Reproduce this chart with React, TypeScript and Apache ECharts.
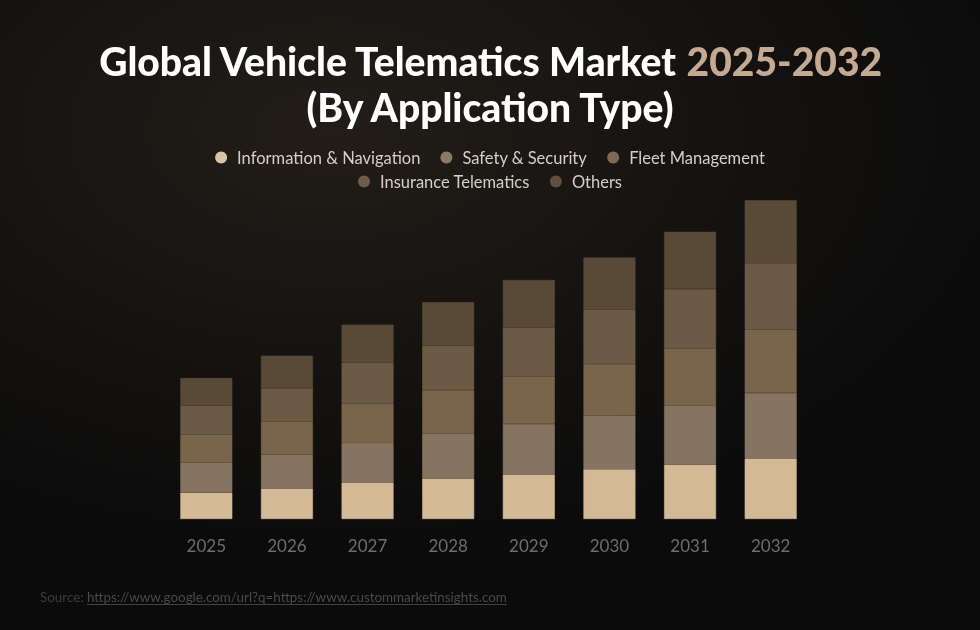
import React, { useEffect, useRef } from "react";
import * as echarts from "echarts";

const years = ["2025", "2026", "2027", "2028", "2029", "2030", "2031", "2032"];
const seriesNames = [
  "Information & Navigation",
  "Safety & Security",
  "Fleet Management",
  "Insurance Telematics",
  "Others",
];
const infoNav = [2.64, 3.05, 3.65, 4.05, 4.45, 4.97, 5.42, 6.06];
const safety = [2.98, 3.41, 4.02, 4.5, 5.06, 5.39, 5.9, 6.55];
const fleet = [2.81, 3.29, 3.89, 4.34, 4.74, 5.14, 5.71, 6.34];
const insurance = [2.93, 3.34, 4.06, 4.46, 4.91, 5.46, 5.98, 6.63];
const others = [2.74, 3.25, 3.82, 4.34, 4.74, 5.19, 5.71, 6.31];
const seriesData = [infoNav, safety, fleet, insurance, others];
const barColors = ["#d4b997", "#857461", "#79654b", "#6a5a46", "#594a37"];
const dotColors = ["#d9c3a5", "#8a7a67", "#7d6a52", "#6c5c48", "#5f4f3c"];

const FONT = "Lato, 'Open Sans', sans-serif";

export default function App() {
  const ref = useRef<HTMLDivElement>(null);
  useEffect(() => {
    document.body.style.margin = "0";
    const chart = echarts.init(ref.current!, null, { renderer: "svg" });
    const legendText = {
      color: "#d6cfc8",
      fontFamily: FONT,
      fontSize: 16.5,
      padding: [0, 0, 0, 5],
    };
    const option: any = {
      animation: false,
      backgroundColor: "transparent",
      title: {
        left: "center",
        top: 33,
        text: "Global Vehicle Telematics Market {a|2025-2032}\n(By Application Type)",
        textStyle: {
          color: "#ffffff",
          fontFamily: FONT,
          fontWeight: 900,
          fontSize: 39,
          lineHeight: 46,
          rich: {
            a: {
              color: "#c4aa92",
              fontFamily: FONT,
              fontWeight: 900,
              fontSize: 39,
              lineHeight: 46,
            },
          },
        },
      },
      legend: [
        {
          data: seriesNames.slice(0, 3).map((n, i) => ({ name: n, itemStyle: { color: dotColors[i], borderWidth: 0 } })),
          top: 144,
          left: "center",
          icon: "circle",
          itemWidth: 12,
          itemHeight: 12,
          itemGap: 20,
          textStyle: legendText,
        },
        {
          data: seriesNames.slice(3).map((n, i) => ({ name: n, itemStyle: { color: dotColors[i + 3], borderWidth: 0 } })),
          top: 168,
          left: "center",
          icon: "circle",
          itemWidth: 12,
          itemHeight: 12,
          itemGap: 20,
          textStyle: legendText,
        },
      ],
      grid: { left: 166, right: 169, top: 199, bottom: 111, containLabel: false },
      xAxis: {
        type: "category",
        data: years,
        axisLine: { show: false },
        axisTick: { show: false },
        axisLabel: {
          color: "#6e6e6e",
          fontFamily: FONT,
          fontSize: 17,
          margin: 18,
        },
      },
      yAxis: {
        type: "value",
        min: 0,
        max: 32,
        show: false,
        splitLine: { show: false },
      },
      series: seriesNames.map((name, i) => ({
        name,
        type: "bar",
        stack: "total",
        barWidth: 52,
        data: seriesData[i],
        itemStyle: { color: barColors[i], borderColor: barColors[i], borderWidth: 0.6 },
        emphasis: { disabled: true },
      })),
      graphic: [
        {
          type: "text",
          left: 40,
          top: 590,
          style: {
            text: "{s|Source:} {l|https://www.google.com/url?q=https://www.custommarketinsights.com}",
            rich: {
              s: { fill: "#3d3d3d", fontFamily: FONT, fontSize: 13.4 },
              l: { fill: "#4a4a4a", fontFamily: FONT, fontSize: 13.4 },
            },
          },
        },
        {
          type: "line",
          shape: { x1: 87, y1: 604.5, x2: 507, y2: 604.5 },
          style: { stroke: "#444444", lineWidth: 1 },
        },
      ],
    };
    chart.setOption(option);
    return () => chart.dispose();
  }, []);
  return (
    <div
      style={{
        position: "fixed",
        left: 0,
        top: 0,
        width: 980,
        height: 630,
        background:
          "radial-gradient(ellipse 700px 420px at 330px 130px, #221d18 0%, #151311 55%, #0b0b0b 100%)",
      }}
    >
      <div ref={ref} style={{ width: 980, height: 630 }} />
    </div>
  );
}
